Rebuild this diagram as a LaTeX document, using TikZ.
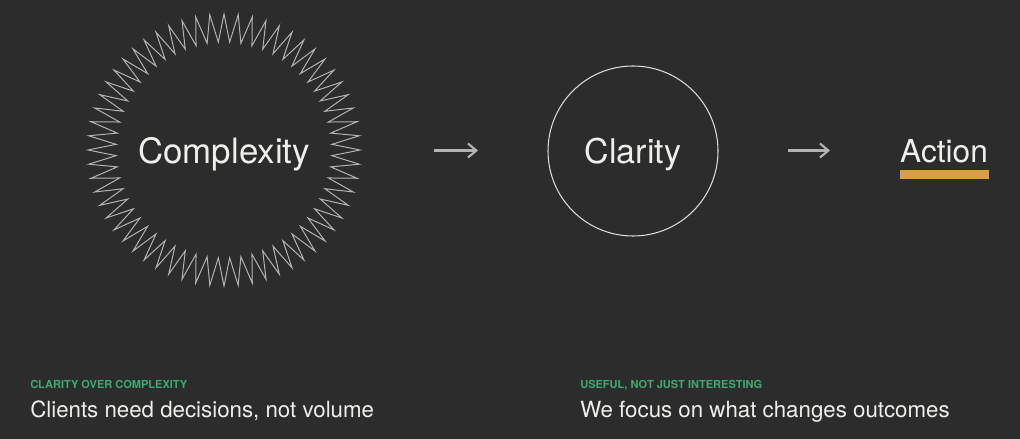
\documentclass[tikz,border=0pt]{standalone}
\usepackage{fontspec}
\setmainfont{TeX Gyre Heros}
\usetikzlibrary{arrows.meta}
\definecolor{slate}{HTML}{2B2C2B}
\definecolor{ink}{HTML}{EFEFEC}
\definecolor{ring}{HTML}{DCDCDA}
\definecolor{spikegray}{HTML}{B4B4B2}
\definecolor{leafgreen}{HTML}{3EAA72}
\definecolor{gold}{HTML}{DBA03C}
\begin{document}
\begin{tikzpicture}[
  >={Straight Barb[length=6pt,width=10pt,line width=1.5pt]},
  spike/.style={draw=spikegray,line width=0.7pt,line join=miter},
  flow/.style={->,draw=spikegray,line width=1.6pt},
  caption/.style={anchor=base west,inner sep=0pt,text=leafgreen,font=\bfseries\fontsize{7.85}{9}\selectfont},
  lead/.style={anchor=base west,inner sep=0pt,text=ink,font=\fontsize{15.85}{18}\selectfont}
]
\fill[slate] (0,0) rectangle (25.5,10.975);

\node(cplx)[inner sep=0pt,text depth=0pt,text=ink,font=\fontsize{24.8}{28}\selectfont] at (5.6,7.225) {Complexity};
\draw[spike,shift={(cplx.center)}] (90:3.4) \foreach \a in {0,6,...,354}{ -- (\a+93:2.7) -- (\a+96:3.4)} -- cycle;

\node(clar)[draw=ring,circle,line width=0.75pt,minimum size=4.25cm,inner sep=0pt,text depth=0pt,text=ink,font=\fontsize{24.2}{28}\selectfont] at (15.825,7.2) {Clarity};

\node(act)[inner sep=0pt,text depth=0pt,text=ink,font=\fontsize{22.5}{26}\selectfont] at (23.6,7.2125) {Action};
\fill[gold] ([yshift=-0.2cm]act.south west) rectangle ([yshift=-0.42cm,xshift=0.03cm]act.south east);

\coordinate(a1) at (10.85,7.2125);
\coordinate(b1) at (11.95,7.2125);
\coordinate(a2) at (19.7,7.2125);
\coordinate(b2) at (20.75,7.2125);
\draw[flow] (a1) -- (b1);
\draw[flow] (a2) -- (b2);

\node(cap1)[caption] at (0.75,1.2675) {CLARITY OVER COMPLEXITY};
\node(txt1)[lead] at (0.75,0.525) {Clients need decisions, not volume};
\node(cap2)[caption] at (14.5,1.2675) {USEFUL, NOT JUST INTERESTING};
\node(txt2)[lead] at (14.5,0.525) {We focus on what changes outcomes};

\end{tikzpicture}
\end{document}
